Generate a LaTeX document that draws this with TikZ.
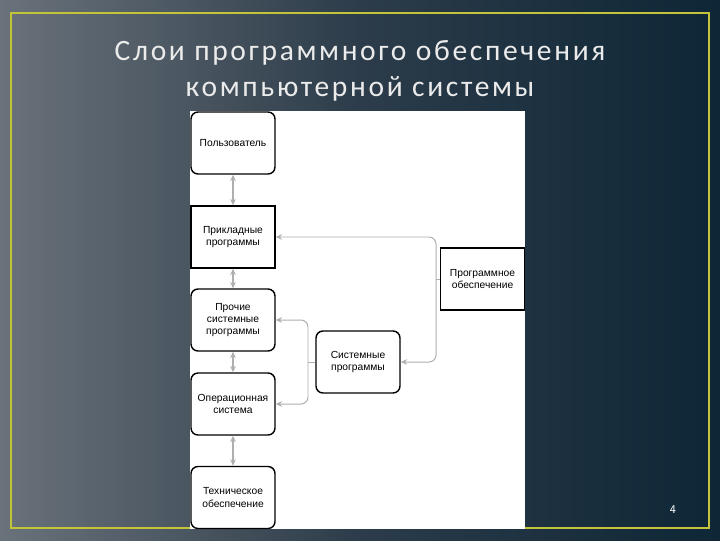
\documentclass[tikz,border=0pt]{standalone}
\usepackage{fontspec}
\usetikzlibrary{arrows.meta,positioning,calc}
\newfontfamily\titlefont[LetterSpace=9]{Carlito}
\newfontfamily\boxfont{Liberation Sans}
\definecolor{slate}{RGB}{106,114,122}
\definecolor{midnight}{RGB}{14,38,54}
\definecolor{dusk}{RGB}{44,60,74}
\definecolor{olive}{RGB}{196,196,58}
\definecolor{linkgray}{RGB}{175,175,175}
\tikzset{
  >={Stealth[length=1.6mm,width=1.4mm]},
  layer/.style={draw=black,fill=white,line width=1pt,rounded corners=#1,
    minimum width=2.1cm,minimum height=1.55cm,align=center,
    font=\boxfont\fontsize{7.3}{8.6}\selectfont},
  layer/.default=5pt,
  flow/.style={<->,draw=linkgray,line width=1.1pt},
  link/.style={draw=linkgray,line width=0.7pt,rounded corners=5pt},
  heading/.style={font=\titlefont\fontsize{21}{25}\selectfont,text=white!92!black},
}
\begin{document}
\begin{tikzpicture}[x=0.025cm,y=-0.025cm]
    % slide background
    \useasboundingbox (0,0) rectangle (720,540);
    \shade[left color=slate,right color=midnight,middle color=dusk] (0,0) rectangle (720,540);
    \draw[olive,line width=1.4pt] (11,13) rectangle (709,528);
    \node[heading] (title1) at (360,53) {Слои программного обеспечения};
    \node[heading] (title2) at (360,89) {компьютерной системы};
    % white sheet
    \fill[white] (190,111) rectangle (525,529);
    % layers
    \node[layer] (user) at (233,143) {Пользователь};
    \node[layer=0pt] (app) at (233,237) {Прикладные\\программы};
    \node[layer] (other) at (233,320) {Прочие\\системные\\программы};
    \node[layer] (os) at (233,404) {Операционная\\система};
    \node[layer] (hw) at (233,497.5) {Техническое\\обеспечение};
    \node[layer=0pt] (soft) at (482.5,279) {Программное\\обеспечение};
    \node[layer] (sys) at (358,362) {Системные\\программы};
    \draw[flow] (user) -- (app);
    \draw[flow] (app) -- (other);
    \draw[flow] (other) -- (os);
    \draw[flow] (os) -- (hw);
    % branches
    \coordinate (softfork) at (436,279);
    \coordinate (sysfork) at (308,362);
    \draw[link] (soft.west) -- (softfork);
    \draw[link,->] (softfork) |- (app.east);
    \draw[link,->] (softfork) |- (sys.east);
    \draw[link] (sys.west) -- (sysfork);
    \draw[link,->] (sysfork) |- (other.east);
    \draw[link,->] (sysfork) |- (os.east);
    \node[text=white,font=\sffamily\fontsize{8.5}{9}\selectfont] (page) at (673,510) {4};
\end{tikzpicture}
\end{document}
